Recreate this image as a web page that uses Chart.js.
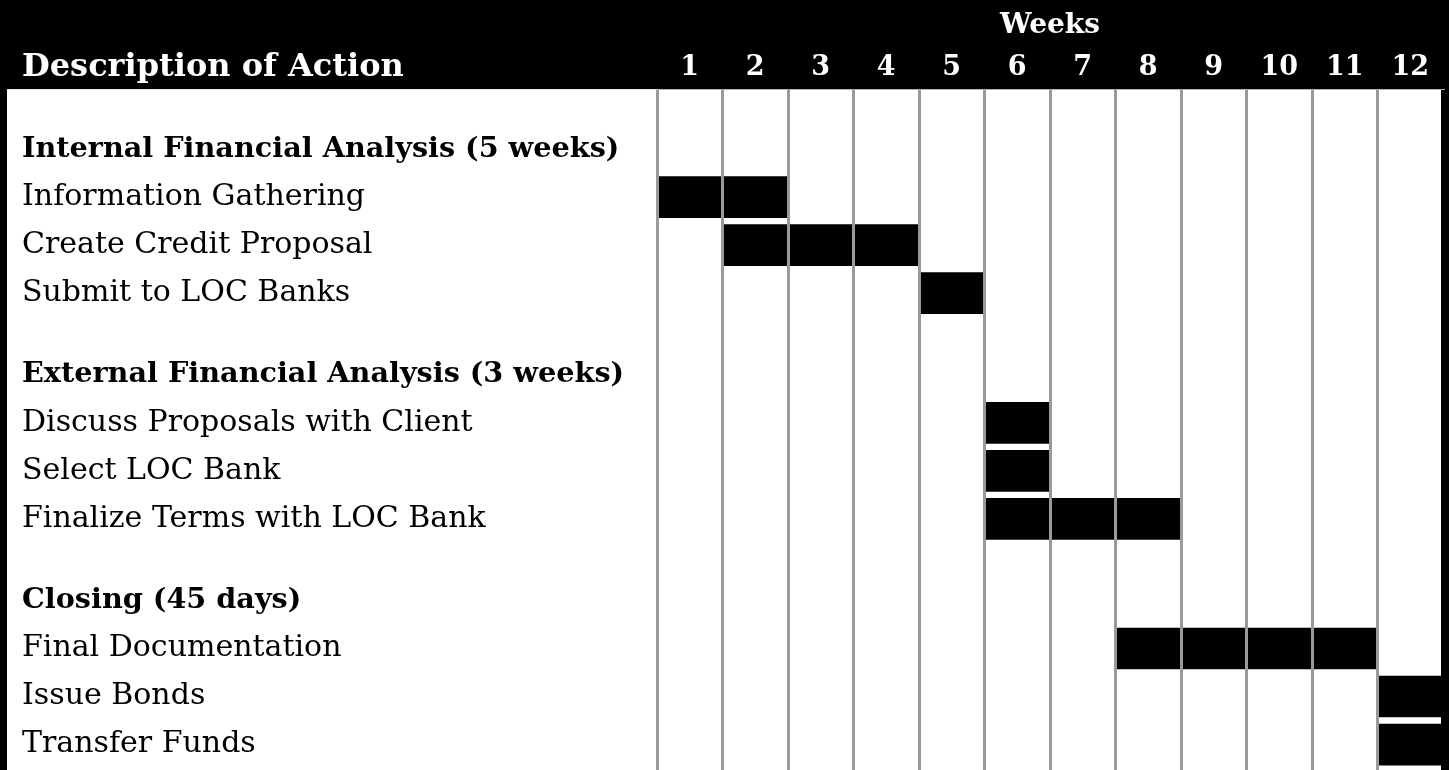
<!doctype html>
<html>
<head>
<meta charset="UTF-8">
<title>Gantt Chart</title>
<script src="https://cdn.jsdelivr.net/npm/chart.js@4/dist/chart.umd.min.js"></script>
<style>
	html, body { margin: 0; padding: 0; background: #000; }
	canvas { display: block; }
</style>
</head>
<body>
<canvas id="gantt" width="1449" height="770"></canvas>
<script>
	var weekLabels = ['1', '2', '3', '4', '5', '6', '7', '8', '9', '10', '11', '12'];
	var groupNames = [
		'Internal Financial Analysis (5 weeks)',
		'External Financial Analysis (3 weeks)',
		'Closing (45 days)'
	];
	var taskNames = [
		'Information Gathering',
		'Create Credit Proposal',
		'Submit to LOC Banks',
		'Discuss Proposals with Client',
		'Select LOC Bank',
		'Finalize Terms with LOC Bank',
		'Final Documentation',
		'Issue Bonds',
		'Transfer Funds'
	];
	var taskGroup = [0, 0, 0, 1, 1, 1, 2, 2, 2];
	// week boundaries, 0 = start of week 1
	var taskStart = [0, 1, 4, 5, 5, 5, 7, 11, 11];
	var taskEnd = [2, 4, 5, 6, 6, 8, 11, 12, 12];

	var FONT = 'DejaVu Serif';
	var GROUP_GAP = 0.7; // extra space between groups, in rows

	// heading row, then its tasks
	var rowPos = [], rowText = [], rowBold = [], taskPos = [];
	var slot = 0;
	groupNames.forEach(function (g, gi) {
		rowPos.push(slot); rowText.push(g); rowBold.push(true);
		slot += 1;
		taskNames.forEach(function (t, ti) {
			if (taskGroup[ti] !== gi) return;
			rowPos.push(slot); rowText.push(t); rowBold.push(false);
			taskPos[ti] = slot;
			slot += 1;
		});
		slot += GROUP_GAP;
	});

	var bars = taskNames.map(function (t, i) {
		return {x: [taskStart[i], taskEnd[i]], y: taskPos[i]};
	});

	var backdrop = {
		id: 'backdrop',
		beforeDraw: function (chart) {
			var ctx = chart.ctx, a = chart.chartArea;
			ctx.save();
			ctx.fillStyle = '#000';
			ctx.fillRect(0, 0, chart.width, chart.height);
			ctx.fillStyle = '#fff';
			ctx.fillRect(7, a.top, 1441 - 7, chart.height - a.top);
			ctx.fillStyle = '#fff';
			ctx.font = 'bold 32px "' + FONT + '"';
			ctx.textBaseline = 'middle';
			ctx.textAlign = 'left';
			ctx.fillText('Description of Action', 22, 68);
			ctx.restore();
		}
	};

	var config = {
		type: 'bar',
		data: {
			labels: taskNames,
			datasets: [{
				data: bars,
				xAxisID: 'x',
				yAxisID: 'y',
				backgroundColor: '#000',
				borderWidth: 0,
				barThickness: 41
			}]
		},
		options: {
			indexAxis: 'y',
			responsive: false,
			animation: false,
			layout: {padding: {left: 22, right: 6}},
			plugins: {
				legend: {display: false},
				tooltip: {enabled: false}
			},
			scales: {
				x: {
					type: 'linear',
					position: 'top',
					weight: 0,
					min: 0,
					max: 12,
					ticks: {display: false, stepSize: 1},
					// grid on top of the bars, last line sits under the frame
					grid: {
						color: function (c) { return c.tick && c.tick.value === 12 ? 'rgba(0,0,0,0)' : '#9a9a9a'; },
						lineWidth: 3,
						drawTicks: false,
						z: 1
					},
					border: {display: true, color: '#b0b0b0', width: 1, z: 1}
				},
				weeks: {
					type: 'category',
					position: 'top',
					weight: 1,
					labels: weekLabels,
					offset: true,
					grid: {display: false, drawTicks: false},
					border: {display: false},
					ticks: {
						color: '#fff',
						font: {family: FONT, size: 27, weight: 'bold'},
						padding: 4.8,
						autoSkip: false,
						maxRotation: 0
					},
					title: {
						display: true,
						text: 'Weeks',
						color: '#fff',
						font: {family: FONT, size: 28, weight: 'bold'},
						padding: {top: 8.5, bottom: 5}
					}
				},
				y: {
					type: 'linear',
					position: 'left',
					reverse: true,
					offset: false,
					min: -1.25,
					max: 12.93,
					grid: {display: false, drawTicks: false},
					border: {display: false},
					afterBuildTicks: function (scale) {
						scale.ticks = rowPos.map(function (v) { return {value: v}; });
					},
					afterFit: function (scale) {
						scale.width = 635;
						scale.paddingTop = 0;
						scale.paddingBottom = 0;
					},
					ticks: {
						autoSkip: false,
						crossAlign: 'far',
						color: '#000',
						callback: function (value, index) { return rowText[index]; },
						font: function (c) {
							return rowBold[c.index]
								? {family: FONT, size: 28.7, weight: 'bold'}
								: {family: FONT, size: 30, weight: 'normal'};
						}
					}
				}
			}
		},
		plugins: [backdrop]
	};

	window.onload = function () {
		var ctx = document.getElementById('gantt').getContext('2d');
		window.myGantt = new Chart(ctx, config);
	};
</script>
</body>
</html>
